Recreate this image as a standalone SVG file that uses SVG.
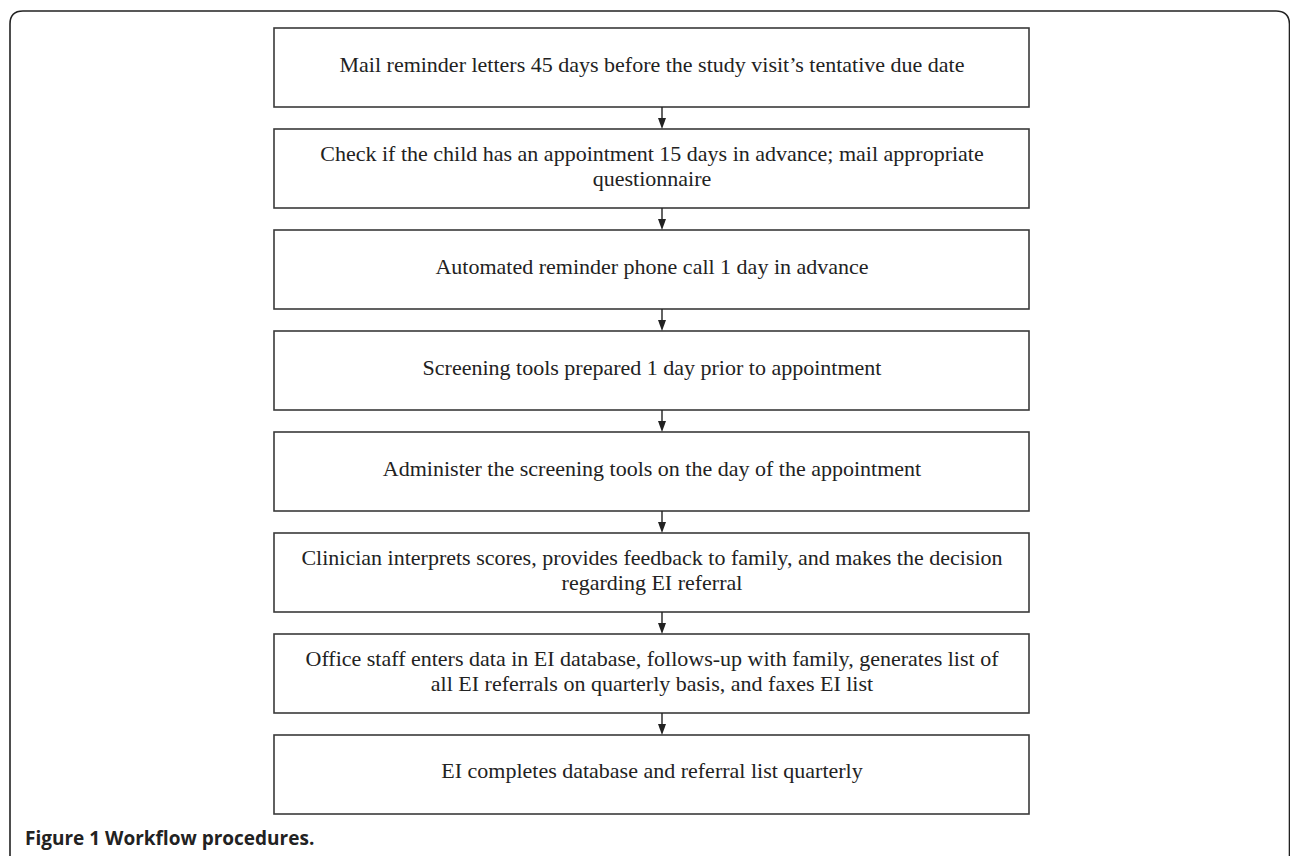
<svg xmlns="http://www.w3.org/2000/svg" width="1290" height="856" viewBox="0 0 1290 856">
<style>
.box{fill:#fff;stroke:#3a3a3a;stroke-width:1.6}
.t{font-family:"Liberation Serif","Times New Roman",serif;font-size:22px;fill:#222;text-anchor:middle}
.c{stroke:#222;stroke-width:1.4;fill:none}
.ah{fill:#222}
.cap{font-family:"Open Sans","Noto Sans",sans-serif;font-weight:bold;font-size:19px;fill:#222}
</style>
<rect width="1290" height="856" fill="#fff"/>
<path d="M10 856 V24 Q10 11 23 11 H1276 Q1289 11 1289.5 24 V856" fill="none" stroke="#222" stroke-width="1.6"/>
<g id="n1"><rect class="box" x="274" y="28" width="755" height="79"/><text class="t" x="652" y="72">Mail reminder letters 45 days before the study visit’s tentative due date</text></g>
<g id="n2"><rect class="box" x="274" y="129" width="755" height="79"/><text class="t" x="652" y="161">Check if the child has an appointment 15 days in advance; mail appropriate</text><text class="t" x="652" y="186">questionnaire</text></g>
<g id="n3"><rect class="box" x="274" y="230" width="755" height="79"/><text class="t" x="652" y="274">Automated reminder phone call 1 day in advance</text></g>
<g id="n4"><rect class="box" x="274" y="331" width="755" height="79"/><text class="t" x="652" y="375">Screening tools prepared 1 day prior to appointment</text></g>
<g id="n5"><rect class="box" x="274" y="432" width="755" height="79"/><text class="t" x="652" y="476">Administer the screening tools on the day of the appointment</text></g>
<g id="n6"><rect class="box" x="274" y="533" width="755" height="79"/><text class="t" x="652" y="565">Clinician interprets scores, provides feedback to family, and makes the decision</text><text class="t" x="652" y="590">regarding EI referral</text></g>
<g id="n7"><rect class="box" x="274" y="634" width="755" height="79"/><text class="t" x="652" y="666">Office staff enters data in EI database, follows-up with family, generates list of</text><text class="t" x="652" y="691">all EI referrals on quarterly basis, and faxes EI list</text></g>
<g id="n8"><rect class="box" x="274" y="735" width="755" height="79"/><text class="t" x="652" y="778">EI completes database and referral list quarterly</text></g>
<g id="connectors">
<path class="c" d="M662 107 V119"/><path class="ah" d="M658 118 L666 118 L662 129 Z"/>
<path class="c" d="M662 208 V220"/><path class="ah" d="M658 219 L666 219 L662 230 Z"/>
<path class="c" d="M662 309 V321"/><path class="ah" d="M658 320 L666 320 L662 331 Z"/>
<path class="c" d="M662 410 V422"/><path class="ah" d="M658 421 L666 421 L662 432 Z"/>
<path class="c" d="M662 511 V523"/><path class="ah" d="M658 522 L666 522 L662 533 Z"/>
<path class="c" d="M662 612 V624"/><path class="ah" d="M658 623 L666 623 L662 634 Z"/>
<path class="c" d="M662 713 V725"/><path class="ah" d="M658 724 L666 724 L662 735 Z"/>
</g>
<text class="cap" x="25" y="845">Figure 1 Workflow procedures.</text>
</svg>
